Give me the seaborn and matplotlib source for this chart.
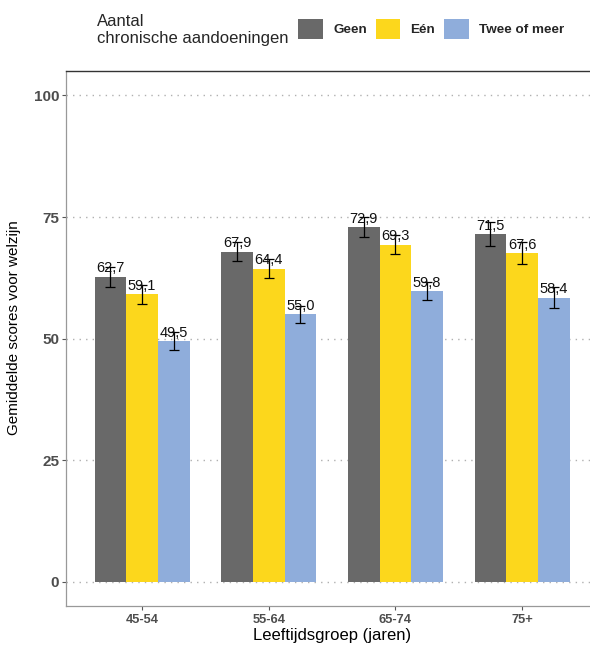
import pandas as pd
import seaborn as sns
import matplotlib.pyplot as plt
from matplotlib.patches import Patch

sns.set_style("white")
plt.rcParams['font.family'] = ['Liberation Sans', 'DejaVu Sans']

# Data
age_groups = ['45-54', '55-64', '65-74', '75+']
conditions = ['Geen', 'Eén', 'Twee of meer']
geen = [62.7, 67.9, 72.9, 71.5]
een = [59.1, 64.4, 69.3, 67.6]
twee = [49.5, 55.0, 59.8, 58.4]
err_geen = [2.0, 2.0, 2.0, 2.4]
err_een = [1.9, 1.9, 1.9, 2.2]
err_twee = [1.8, 1.7, 1.8, 2.2]
colors = ['#696969', '#FCD71C', '#8FADDB']

df = pd.DataFrame({
    'leeftijd': age_groups * 3,
    'aandoeningen': [c for c in conditions for _ in age_groups],
    'score': geen + een + twee,
    'err': err_geen + err_een + err_twee,
})

fig = plt.figure(figsize=(5.9, 6.46), dpi=100)
ax = fig.add_axes([0.1119, 0.0619, 0.9017, 0.828])

sns.barplot(data=df, x='leeftijd', y='score', hue='aandoeningen',
            hue_order=conditions, order=age_groups, palette=colors,
            errorbar=None, width=0.75, saturation=1, linewidth=0,
            legend=False, ax=ax)

# error bars and value labels, positioned on the drawn bars
for container, cond in zip(ax.containers, conditions):
    sub = df[df['aandoeningen'] == cond].set_index('leeftijd').loc[age_groups]
    xs = [p.get_x() + p.get_width() / 2 for p in container]
    ax.errorbar(xs, sub['score'], yerr=sub['err'], fmt='none', ecolor='black',
                elinewidth=0.9, capsize=3.3, capthick=0.9, zorder=5)
    ax.bar_label(container, labels=[f"{v:.1f}".replace('.', ',') for v in sub['score']],
                 padding=1, fontsize=10.5, color='#111111', zorder=6)

ax.set_xlim(-0.6, 3.6)
ax.set_ylim(-5, 105)
ax.set_yticks([0, 25, 50, 75, 100])
ax.yaxis.grid(True, color='#b0b0b0', linestyle=(0, (1, 3.7)), linewidth=1.0)
ax.xaxis.grid(False)
ax.set_axisbelow(True)

for lab in ax.get_xticklabels() + ax.get_yticklabels():
    lab.set_fontweight('bold')
ax.tick_params(axis='both', labelcolor='#4D4D4D', colors='#555555',
               length=3, width=0.8, left=True, bottom=True)
ax.tick_params(axis='x', labelsize=9.3, pad=3)
ax.tick_params(axis='y', labelsize=11, pad=2)
ax.tick_params(axis='both', labelcolor='#4D4D4D')

for s in ['left', 'bottom']:
    ax.spines[s].set_color('#999999')
    ax.spines[s].set_linewidth(0.9)
ax.spines['top'].set_color('#333333')
ax.spines['top'].set_linewidth(1.0)
ax.spines['right'].set_color('#333333')

ax.set_xlabel('Leeftijdsgroep (jaren)', fontsize=12, color='black', labelpad=1)
ax.set_ylabel('Gemiddelde scores voor welzijn', fontsize=11, color='black')
ax.yaxis.set_label_coords(-0.085, 0.52)

# legend across the top
fig.text(97 / 590, 1 - 30 / 646, 'Aantal\nchronische aandoeningen', fontsize=12,
         va='center', ha='left', linespacing=1.1)
handles = [Patch(facecolor=c, edgecolor='none') for c in colors]
leg = fig.legend(handles, conditions, loc='center left', bbox_to_anchor=(298 / 590, 1 - 29 / 646),
                 ncol=3, frameon=False, handlelength=1.85, handleheight=1.8,
                 handletextpad=0.75, columnspacing=0.65, borderaxespad=0, borderpad=0,
                 prop={'weight': 'bold', 'size': 9.7})

fig.savefig('out.png', dpi=100)
